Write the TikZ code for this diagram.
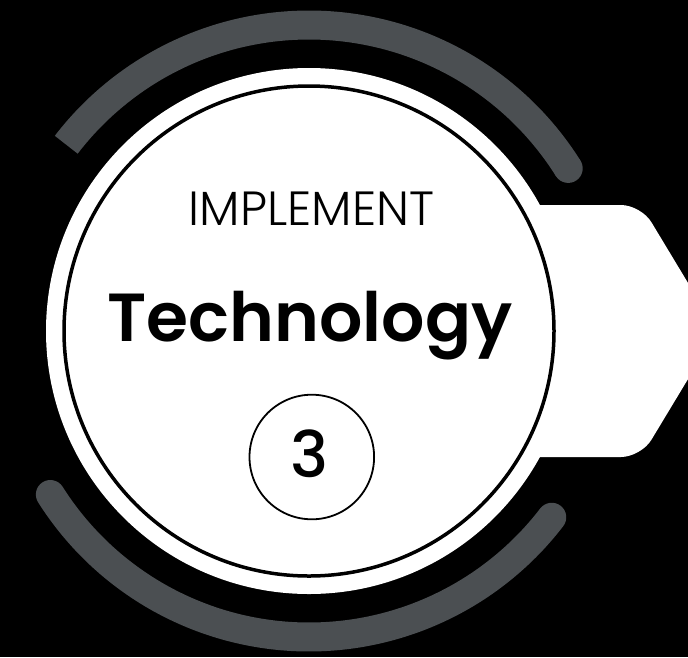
\documentclass[tikz,border=0pt]{standalone}
\usepackage{fontspec}
\setmainfont{Poppins}
\newfontfamily\poplight{Poppins Light}
\newfontfamily\popsemi{Poppins SemiBold}
\newfontfamily\popmed{Poppins Medium}
\definecolor{bandgray}{RGB}{75,79,82}
\begin{document}
\begin{tikzpicture}[x=1pt,y=-1pt,
  band/.style={draw=bandgray,line width=29pt},
  lbl/.style={anchor=base,inner sep=0pt,text=black}]
\useasboundingbox (0,0) rectangle (688,657);
\fill[black] (0,0) rectangle (688,657);
% gray arcs
\draw[band,line cap=butt] plot[domain=142.5:32.1,samples=120] ({309+306*cos(\x)},{331-306*sin(\x)});
\fill[bandgray] ({309+306*cos(32.1)},{331-306*sin(32.1)}) circle[radius=14.5pt];
\draw[band,line cap=round] plot[domain=212.3:322.5,samples=120] ({309+306*cos(\x)},{331-306*sin(\x)});
% arrow tab
\coordinate (tl) at (450,205);
\coordinate (c1) at (641,205);
\coordinate (tip) at (717,331);
\coordinate (c2) at (641,457);
\coordinate (bl) at (450,457);
\fill[white,rounded corners=20pt] (tl) -- (c1) -- (tip) -- (c2) -- (bl) -- cycle;
% main circle
\node[circle,fill=white,minimum size=526pt,inner sep=0pt] (outer) at (309,331) {};
\node[circle,draw=black,line width=3.5pt,minimum size=490pt,inner sep=0pt] (inner) at (309,331) {};
\node[circle,draw=black,line width=1.8pt,minimum size=124.6pt,inner sep=0pt] (num) at (311.8,457) {};
% texts
\node[lbl,font=\poplight\fontsize{48}{48}\selectfont] (t1) at (311.5,225) {IMPLEMENT};
\node[lbl,font=\popsemi\fontsize{68}{68}\selectfont] (t2) at (310,341) {Technology};
\node[lbl,font=\popmed\fontsize{64}{64}\selectfont] (t3) at (310,477.3) {3};
\end{tikzpicture}
\end{document}
